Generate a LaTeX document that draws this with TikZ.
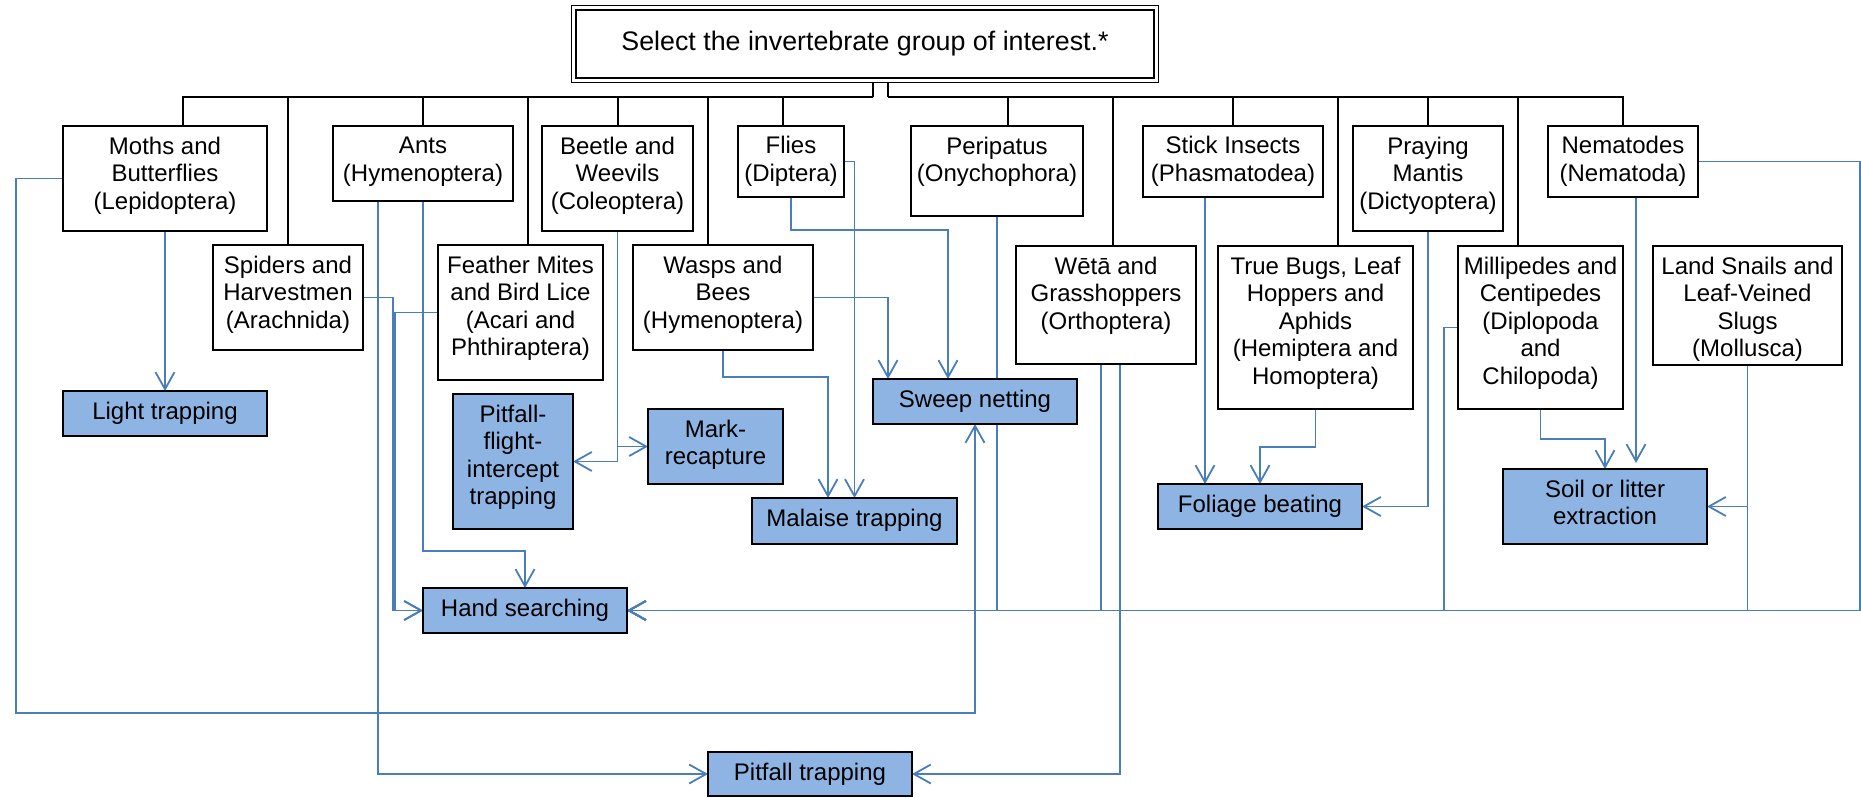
\documentclass[tikz,border=0pt]{standalone}
\usepackage{fontspec}
\setmainfont{Liberation Sans}
\usetikzlibrary{arrows.meta,calc,backgrounds}

\definecolor{lineblue}{RGB}{74,126,187}
\definecolor{methodblue}{RGB}{142,180,227}

\newdimen\unitpx
\unitpx=0.5pt
\newcommand{\bodyfont}{\fontsize{12}{13.75}\selectfont}
\newcommand{\cell}[3]{\parbox[c][#2\unitpx][t]{#1\unitpx}{\centering\rule{0pt}{14pt}#3}}

\tikzset{
  grp/.style={draw, line width=1pt, fill=white, inner sep=0pt, outer sep=0pt,
    anchor=north west, font=\bodyfont},
  method/.style={grp, fill=methodblue},
  tree/.style={line width=1pt},
  flow/.style={draw=lineblue, line width=0.9pt,
    -{Straight Barb[length=8.5pt,width=9.5pt]}}
}

\begin{document}
\begin{tikzpicture}[x=0.5pt, y=-0.5pt]
  \useasboundingbox (0,0) rectangle (1861,797);

  \node[draw, double, double distance=1.6pt, line width=0.6pt, inner sep=0pt,
    outer sep=0pt, minimum width=291.2pt, minimum height=36.2pt,
    font=\fontsize{13.4}{16}\selectfont] (top) at (865,44)
    {Select the invertebrate group of interest.*};

  % invertebrate groups
  \node[grp] (moths) at (63,126) {\cell{204}{105}{Moths and\\Butterflies\\(Lepidoptera)}};
  \node[grp] (spiders) at (213,245) {\cell{150}{105}{Spiders and\\Harvestmen\\(Arachnida)}};
  \node[grp] (ants) at (333,126) {\cell{180}{75}{Ants\\(Hymenoptera)}};
  \node[grp] (feather) at (438,245) {\cell{165}{135}{Feather Mites\\and Bird Lice\\(Acari and\\Phthiraptera)}};
  \node[grp] (beetle) at (542,126) {\cell{151}{105}{Beetle and\\Weevils\\(Coleoptera)}};
  \node[grp] (wasps) at (633,245) {\cell{180}{105}{Wasps and\\Bees\\(Hymenoptera)}};
  \node[grp] (flies) at (738,126) {\cell{106}{71}{Flies\\(Diptera)}};
  \node[grp] (peri) at (911,126) {\cell{172}{90}{Peripatus\\(Onychophora)}};
  \node[grp] (weta) at (1016,246) {\cell{180}{118}{Wētā and\\Grasshoppers\\(Orthoptera)}};
  \node[grp] (stick) at (1143,126) {\cell{180}{71}{Stick Insects\\(Phasmatodea)}};
  \node[grp] (bugs) at (1218,246) {\cell{195}{163}{True Bugs, Leaf\\Hoppers and\\Aphids\\(Hemiptera and\\Homoptera)}};
  \node[grp] (mantis) at (1353,126) {\cell{150}{105}{Praying\\Mantis\\(Dictyoptera)}};
  \node[grp] (mill) at (1458,246) {\cell{165}{163}{Millipedes and\\Centipedes\\(Diplopoda\\and\\Chilopoda)}};
  \node[grp] (nem) at (1548,126) {\cell{150}{71}{Nematodes\\(Nematoda)}};
  \node[grp] (snails) at (1653,246) {\cell{189}{119}{Land Snails and\\Leaf-Veined\\Slugs\\(Mollusca)}};

  % sampling methods
  \node[method] (light) at (63,391) {\cell{204}{45}{Light trapping}};
  \node[method] (pff) at (453,394) {\cell{120}{135}{Pitfall-\\flight-\\intercept\\trapping}};
  \node[method] (mark) at (648,409) {\cell{135}{75}{Mark-\\recapture}};
  \node[method] (malaise) at (752,498) {\cell{205}{46}{Malaise trapping}};
  \node[method] (sweep) at (873,379) {\cell{204}{45}{Sweep netting}};
  \node[method] (hand) at (423,588) {\cell{204}{45}{Hand searching}};
  \node[method] (pitfall) at (708,752) {\cell{204}{44}{Pitfall trapping}};
  \node[method] (foliage) at (1158,484) {\cell{204}{45}{Foliage beating}};
  \node[method] (soil) at (1503,469) {\cell{204}{75}{Soil or litter\\extraction}};

  \begin{scope}[on background layer]
    % black tree
    \coordinate (barL) at ($(top.south)+(8,17)$);
    \coordinate (barR) at ($(top.south)+(23,17)$);
    \draw[tree] ($(top.south)+(8,0)$) -- (barL);
    \draw[tree] ($(top.south)+(23,0)$) -- (barR);
    \draw[tree] (barL) -| ($(moths.north)+(18,0)$);
    \draw[tree] (barL) -| (spiders.north);
    \draw[tree] (barL) -| (ants.north);
    \draw[tree] (barL) -| ($(feather.north)+(7.5,0)$);
    \draw[tree] (barL) -| (beetle.north);
    \draw[tree] (barL) -| ($(wasps.north)+(-15,0)$);
    \draw[tree] (barL) -| ($(flies.north)+(-8,0)$);
    \draw[tree] (barR) -| ($(peri.north)+(11,0)$);
    \draw[tree] (barR) -| ($(weta.north)+(7,0)$);
    \draw[tree] (barR) -| (stick.north);
    \draw[tree] (barR) -| ($(bugs.north)+(22.5,0)$);
    \draw[tree] (barR) -| (mantis.north);
    \draw[tree] (barR) -| ($(mill.north)+(-22.5,0)$);
    \draw[tree] (barR) -| (nem.north);

    % blue method links
    \draw[flow] (moths.south) -- (light.north);
    \draw[flow] (moths.west) -| (16,713) -| (sweep.south);
    \draw[flow] (spiders.east) -- ++(30,0) |- (hand.west);
    \draw[flow] (feather.west) -- ++(-43,0) |- (hand.west);
    \draw[flow] ($(ants.south)+(-45,0)$) |- (pitfall.west);
    \draw[flow] (ants.south) -- ++(0,350) -| (hand.north);
    \draw[flow] (beetle.south) |- (pff.east);
    \draw[flow] (beetle.south) |- (mark.west);
    \draw[flow] (wasps.east) -| ($(sweep.north)+(-87,0)$);
    \draw[flow] (wasps.south) -- ++(0,27) -| ($(malaise.north)+(-26.5,0)$);
    \draw[flow] (flies.east) -| (malaise.north);
    \draw[flow] (flies.south) -- ++(0,33) -| ($(sweep.north)+(-27,0)$);
    \draw[flow] (peri.south) |- (hand.east);
    \draw[flow] ($(weta.south)+(-5,0)$) |- (hand.east);
    \draw[flow] ($(weta.south)+(14,0)$) |- (pitfall.east);
    \draw[flow] ($(stick.south)+(-28,0)$) -- ($(foliage.north)+(-55,0)$);
    \draw[flow] (bugs.south) -- ++(0,38) -| (foliage.north);
    \draw[flow] (mantis.south) |- (foliage.east);
    \draw[flow] (mill.west) -- ++(-14,0) |- (hand.east);
    \draw[flow] (mill.south) -- ++(0,30) -| (soil.north);
    \draw[flow] ($(nem.south)+(13,0)$) -- ($(soil.north)+(31,-6)$);
    \draw[flow] (nem.east) -- ++(162,0) |- (hand.east);
    \draw[flow] (snails.south) |- (hand.east);
    \draw[flow] (snails.south) |- (soil.east);
  \end{scope}
\end{tikzpicture}
\end{document}
